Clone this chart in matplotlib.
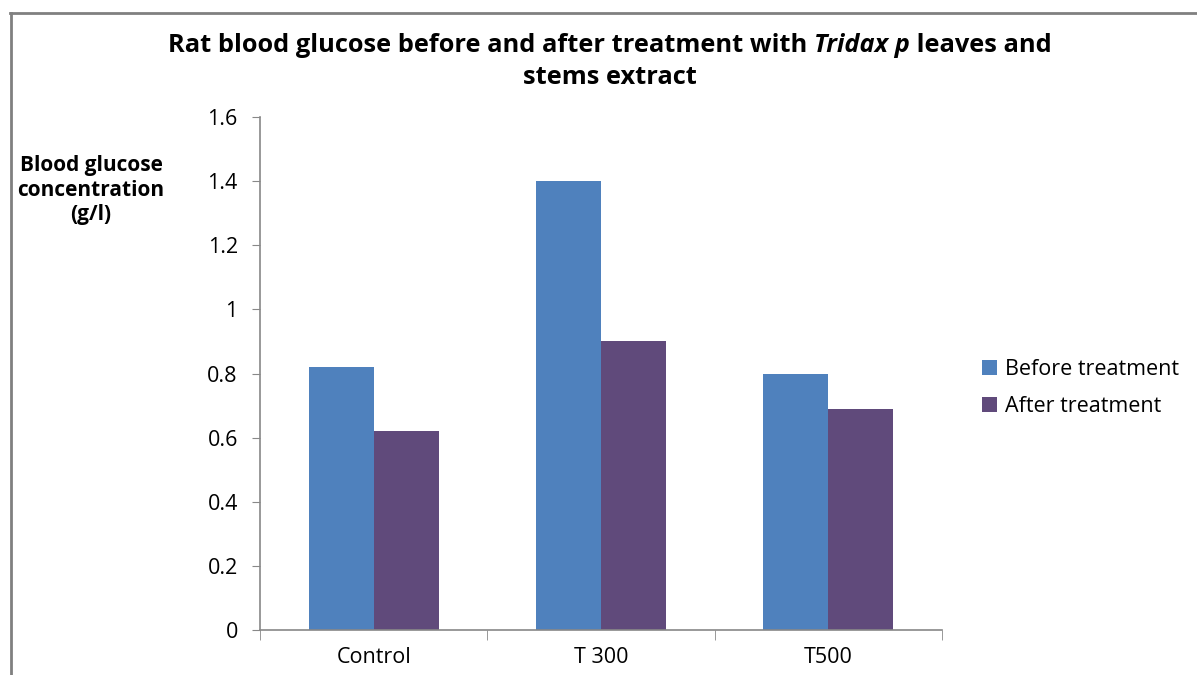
import matplotlib.pyplot as plt
from matplotlib.lines import Line2D
import numpy as np

plt.rcParams['font.family'] = ['Open Sans', 'DejaVu Sans']

# data
groups = ['Control', 'T 300', 'T500']
before = [0.82, 1.40, 0.80]
after = [0.62, 0.90, 0.69]
series_names = ['Before treatment', 'After treatment']
colors = ['#4F81BD', '#604A7B']

fig = plt.figure(figsize=(11.97, 6.75), dpi=100)
ax = fig.add_axes([260 / 1197, 45 / 675, 682 / 1197, 513 / 675])

x = np.arange(len(groups))
w = 0.286
ax.bar(x - w / 2, before, w, color=colors[0], label=series_names[0])
ax.bar(x + w / 2, after, w, color=colors[1], label=series_names[1])

ax.set_xlim(-0.5, len(groups) - 0.5)
ax.set_ylim(0, 1.6)
ax.set_yticks(np.arange(0, 1.61, 0.2))
ax.set_yticklabels(['0', '0.2', '0.4', '0.6', '0.8', '1', '1.2', '1.4', '1.6'])
ax.set_xticks(x)
ax.set_xticklabels(groups)
ax.set_xticks(np.arange(-0.5, len(groups), 1), minor=True)
ax.tick_params(axis='x', which='major', length=0, pad=12, labelsize=15.5)
ax.tick_params(axis='x', which='minor', length=7, color='#888888', direction='out')
ax.tick_params(axis='y', length=6, color='#888888', pad=10, labelsize=15.5)

for s in ['top', 'right']:
    ax.spines[s].set_visible(False)
for s in ['left', 'bottom']:
    ax.spines[s].set_color('#888888')
    ax.spines[s].set_linewidth(1.2)

fig.text(91 / 1197, 1 - 190 / 675, 'Blood glucose\nconcentration\n(g/l)',
         ha='center', va='center', fontsize=15, fontweight='bold', linespacing=1.2)

ax.legend(loc='center left', bbox_to_anchor=(982 / 1197, 1 - 388 / 675),
          bbox_transform=fig.transFigure, frameon=False, fontsize=15.5,
          borderaxespad=0, borderpad=0,
          handlelength=0.7, handleheight=0.7, handletextpad=0.35, labelspacing=0.75)

# title with italic part
y1 = 1 - 46 / 675
tsize = 18.3
parts = [('Rat blood glucose before and after treatment with ', 'normal'),
         ('Tridax p', 'italic'),
         (' leaves and', 'normal')]
texts = []
for s, st in parts:
    t = fig.text(0.5, y1, s, fontsize=tsize, fontweight='bold', style=st,
                 va='center', ha='left')
    texts.append(t)
fig.canvas.draw()
r = fig.canvas.get_renderer()
widths = [t.get_window_extent(r).width for t in texts]
total = sum(widths)
xs = 610 - total / 2
for t, wd in zip(texts, widths):
    t.set_position((xs / fig.bbox.width, y1))
    xs += wd
fig.text(610 / 1197, 1 - 77 / 675, 'stems extract', fontsize=tsize, fontweight='bold',
         ha='center', va='center')

# outer border
fig.add_artist(Line2D([10.5 / 1197, 10.5 / 1197], [0, 1 - 13 / 675],
                      transform=fig.transFigure, color='#808080', lw=2))
fig.add_artist(Line2D([10 / 1197, 1], [1 - 13 / 675, 1 - 13 / 675],
                      transform=fig.transFigure, color='#808080', lw=2))

fig.savefig('out.png', dpi=100)
